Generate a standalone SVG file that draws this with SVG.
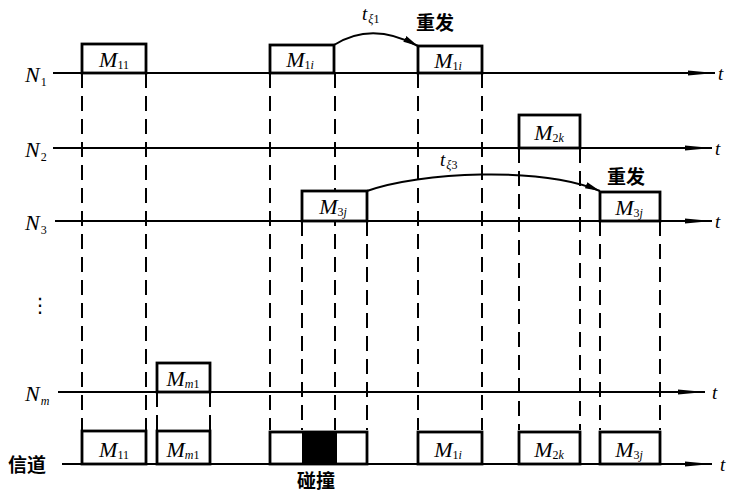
<svg xmlns="http://www.w3.org/2000/svg" width="742" height="500" viewBox="0 0 742 500">
<defs>
<marker id="ax" markerWidth="28" markerHeight="8" refX="27" refY="4" orient="auto" markerUnits="userSpaceOnUse">
<path d="M0,1.5 L27,4 L0,6.5 Z" fill="#000"/>
</marker>
<marker id="ar" markerWidth="16" markerHeight="8" refX="15" refY="4" orient="auto" markerUnits="userSpaceOnUse">
<path d="M0,0.8 L15,4 L0,7.2 Z" fill="#000"/>
</marker>
</defs>
<style>
.axis{stroke:#000;stroke-width:2.2;fill:none}
.dash{stroke:#000;stroke-width:2;stroke-dasharray:15 8;fill:none}
.box{stroke:#000;stroke-width:2.8;fill:#fff}
.arc{stroke:#000;stroke-width:2;fill:none}
.lab{font-family:"Liberation Serif",serif;font-style:italic;font-size:22px;fill:#000}
.sub{font-size:12px;font-style:normal}
.it{font-style:italic}
.t{font-family:"Liberation Serif",serif;font-style:italic;font-size:19px;fill:#000}
.cn{font-family:"Liberation Sans","Noto Sans CJK SC",sans-serif;font-weight:bold;font-size:19px;fill:#000}
</style>
<rect width="742" height="500" fill="#fff"/>
<g id="connectors">
<line class="axis" x1="53" y1="73" x2="715" y2="73" marker-end="url(#ax)"/>
<line class="axis" x1="53" y1="148" x2="712" y2="148" marker-end="url(#ax)"/>
<line class="axis" x1="55" y1="221" x2="712" y2="221" marker-end="url(#ax)"/>
<line class="axis" x1="58" y1="392" x2="705" y2="392" marker-end="url(#ax)"/>
<line class="axis" x1="62" y1="464" x2="712" y2="464" marker-end="url(#ax)"/>
<line class="dash" x1="82" y1="73" x2="82" y2="430"/>
<line class="dash" x1="146" y1="73" x2="146" y2="430"/>
<line class="dash" x1="157" y1="392" x2="157" y2="430"/>
<line class="dash" x1="210" y1="392" x2="210" y2="430"/>
<line class="dash" x1="270" y1="73" x2="270" y2="430"/>
<line class="dash" x1="335" y1="73" x2="335" y2="430"/>
<line class="dash" x1="302" y1="221" x2="302" y2="430"/>
<line class="dash" x1="367" y1="221" x2="367" y2="430"/>
<line class="dash" x1="418" y1="73" x2="418" y2="430"/>
<line class="dash" x1="482" y1="73" x2="482" y2="430"/>
<line class="dash" x1="519" y1="148" x2="519" y2="430"/>
<line class="dash" x1="580" y1="148" x2="580" y2="430"/>
<line class="dash" x1="600" y1="221" x2="600" y2="430"/>
<line class="dash" x1="660" y1="221" x2="660" y2="430"/>
<path class="arc" d="M334,45 Q372,21 418,46" marker-end="url(#ar)"/>
<path class="arc" d="M367,191 C420,172 540,166 600,191" marker-end="url(#ar)"/>
</g>
<g id="labels">
<text class="lab" x="25" y="82">N<tspan class="sub" dx="1" dy="4">1</tspan></text>
<text class="lab" x="25" y="157">N<tspan class="sub" dx="1" dy="4">2</tspan></text>
<text class="lab" x="25" y="230">N<tspan class="sub" dx="1" dy="4">3</tspan></text>
<text x="30" y="312" style="font-family:'DejaVu Sans',sans-serif;font-size:20px">⋮</text>
<text class="lab" x="25" y="401">N<tspan class="sub it" dx="1" dy="4">m</tspan></text>
<text class="cn" x="8" y="472">信道</text>
<text class="cn" x="297" y="488">碰撞</text>
<text class="cn" x="416" y="30">重发</text>
<text class="cn" x="607" y="184">重发</text>
<text class="t" x="362" y="20">t<tspan class="sub it" dx="1" dy="3">ξ</tspan><tspan class="sub">1</tspan></text>
<text class="t" x="440" y="166">t<tspan class="sub it" dx="1" dy="3">ξ</tspan><tspan class="sub">3</tspan></text>
<text class="t" x="718" y="80">t</text>
<text class="t" x="715" y="155">t</text>
<text class="t" x="715" y="228">t</text>
<text class="t" x="712" y="399">t</text>
<text class="t" x="720" y="471">t</text>
</g>
<g id="n1-m11">
<rect class="box" x="82" y="44" width="64" height="29"/>
<text class="lab" x="114" y="67" text-anchor="middle">M<tspan class="sub" dy="2">11</tspan></text>
</g>
<g id="n1-m1i">
<rect class="box" x="270" y="45" width="64" height="28"/>
<text class="lab" x="300" y="67" text-anchor="middle">M<tspan class="sub" dy="2">1</tspan><tspan class="sub it">i</tspan></text>
</g>
<g id="n1-m1i-resend">
<rect class="box" x="418" y="46" width="64" height="27"/>
<text class="lab" x="448" y="68" text-anchor="middle">M<tspan class="sub" dy="2">1</tspan><tspan class="sub it">i</tspan></text>
</g>
<g id="n2-m2k">
<rect class="box" x="519" y="115" width="61" height="33"/>
<text class="lab" x="549" y="140" text-anchor="middle">M<tspan class="sub" dy="2">2</tspan><tspan class="sub it">k</tspan></text>
</g>
<g id="n3-m3j">
<rect class="box" x="302" y="191" width="65" height="30"/>
<text class="lab" x="333" y="214" text-anchor="middle">M<tspan class="sub" dy="2">3</tspan><tspan class="sub it">j</tspan></text>
</g>
<g id="n3-m3j-resend">
<rect class="box" x="600" y="192" width="60" height="29"/>
<text class="lab" x="629" y="215" text-anchor="middle">M<tspan class="sub" dy="2">3</tspan><tspan class="sub it">j</tspan></text>
</g>
<g id="nm-mm1">
<rect class="box" x="157" y="363" width="53" height="29"/>
<text class="lab" x="183" y="386" text-anchor="middle">M<tspan class="sub it" dy="2">m</tspan><tspan class="sub">1</tspan></text>
</g>
<g id="ch-m11">
<rect class="box" x="82" y="431" width="64" height="33"/>
<text class="lab" x="114" y="457" text-anchor="middle">M<tspan class="sub" dy="2">11</tspan></text>
</g>
<g id="ch-mm1">
<rect class="box" x="157" y="431" width="53" height="33"/>
<text class="lab" x="183" y="457" text-anchor="middle">M<tspan class="sub it" dy="2">m</tspan><tspan class="sub">1</tspan></text>
</g>
<g id="ch-collision">
<rect class="box" x="270" y="432" width="97" height="32"/>
<rect x="302" y="432" width="35" height="32" fill="#000"/>
</g>
<g id="ch-m1i">
<rect class="box" x="418" y="432" width="64" height="32"/>
<text class="lab" x="448" y="457" text-anchor="middle">M<tspan class="sub" dy="2">1</tspan><tspan class="sub it">i</tspan></text>
</g>
<g id="ch-m2k">
<rect class="box" x="519" y="432" width="61" height="32"/>
<text class="lab" x="549" y="457" text-anchor="middle">M<tspan class="sub" dy="2">2</tspan><tspan class="sub it">k</tspan></text>
</g>
<g id="ch-m3j">
<rect class="box" x="600" y="432" width="60" height="32"/>
<text class="lab" x="629" y="457" text-anchor="middle">M<tspan class="sub" dy="2">3</tspan><tspan class="sub it">j</tspan></text>
</g>
</svg>
